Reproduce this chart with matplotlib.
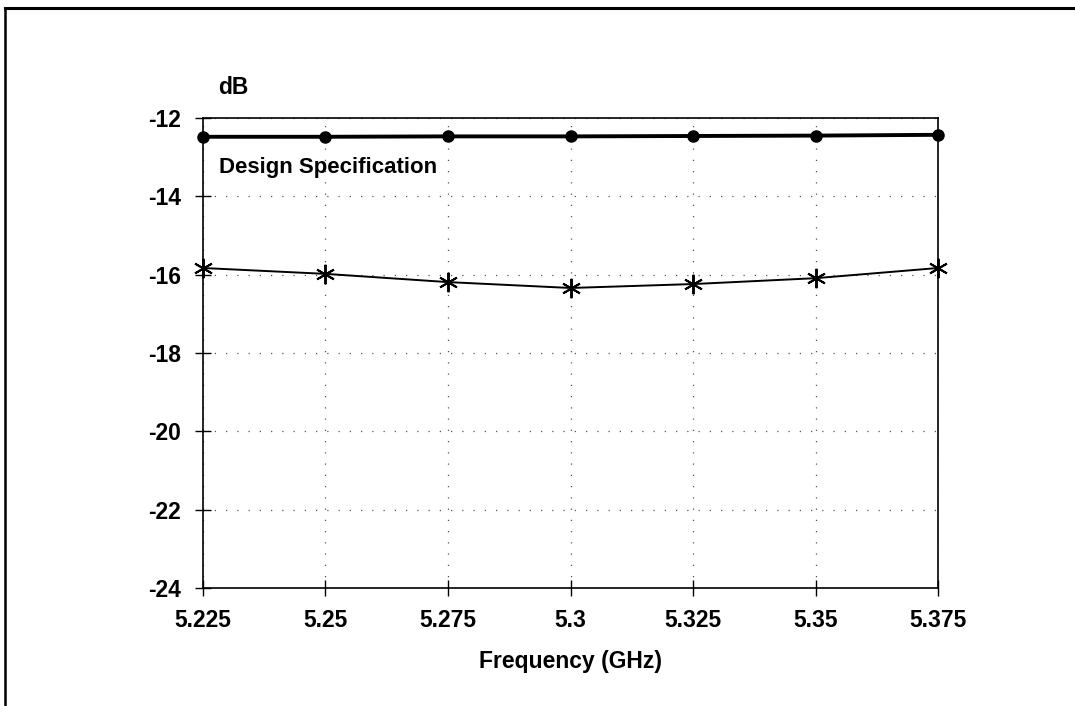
import matplotlib.pyplot as plt
from matplotlib.lines import Line2D

plt.rcParams['font.family'] = ['Liberation Sans', 'DejaVu Sans']
plt.rcParams['font.weight'] = 'bold'
plt.rcParams['axes.unicode_minus'] = False

freq = [5.225, 5.25, 5.275, 5.3, 5.325, 5.35, 5.375]
design_spec = [-12.48, -12.48, -12.47, -12.47, -12.46, -12.45, -12.43]
measured = [-15.83, -15.98, -16.19, -16.34, -16.24, -16.09, -15.83]
yticks = [-12, -14, -16, -18, -20, -22, -24]
xlabels = ['5.225', '5.25', '5.275', '5.3', '5.325', '5.35', '5.375']

fig = plt.figure(figsize=(10.75, 7.06), dpi=100)
ax = fig.add_axes([0.1888, 0.1671, 0.6838, 0.6658])

ax.plot(freq, design_spec, color='black', lw=2.8, marker='o', ms=8, clip_on=False, zorder=3)
ax.plot(freq, measured, color='black', lw=1.4, marker=(6, 2, 0), ms=14, mew=1.4,
        clip_on=False, zorder=3)

ax.set_xlim(5.225, 5.375)
ax.set_ylim(-24, -12)
ax.set_xticks(freq)
ax.set_xticklabels(xlabels)
ax.set_yticks(yticks)
ax.tick_params(axis='both', labelsize=16.5, direction='inout', length=12, width=1)
ax.tick_params(axis='x', pad=9)
ax.tick_params(axis='y', pad=10)
ax.grid(True, linestyle=(0, (1, 8)), color='#555555', lw=0.9)
for s in ax.spines.values():
    s.set_linewidth(1.2)

ax.set_xlabel('Frequency (GHz)', fontsize=16.5, fontweight='bold', labelpad=13)
ax.text(0.02, 1.065, 'dB', transform=ax.transAxes, fontsize=16.5, fontweight='bold',
        ha='left', va='center')
ax.text(0.022, 0.895, 'Design Specification', transform=ax.transAxes,
        fontsize=16, fontweight='bold', ha='left', va='center')

# scanned page border (top and left)
fig.add_artist(Line2D([0.005, 1.0], [0.989, 0.989], transform=fig.transFigure,
                      color='black', lw=2.2))
fig.add_artist(Line2D([0.005, 0.005], [0.0, 0.989], transform=fig.transFigure,
                      color='black', lw=1.8))

fig.savefig('out.png', dpi=100)
